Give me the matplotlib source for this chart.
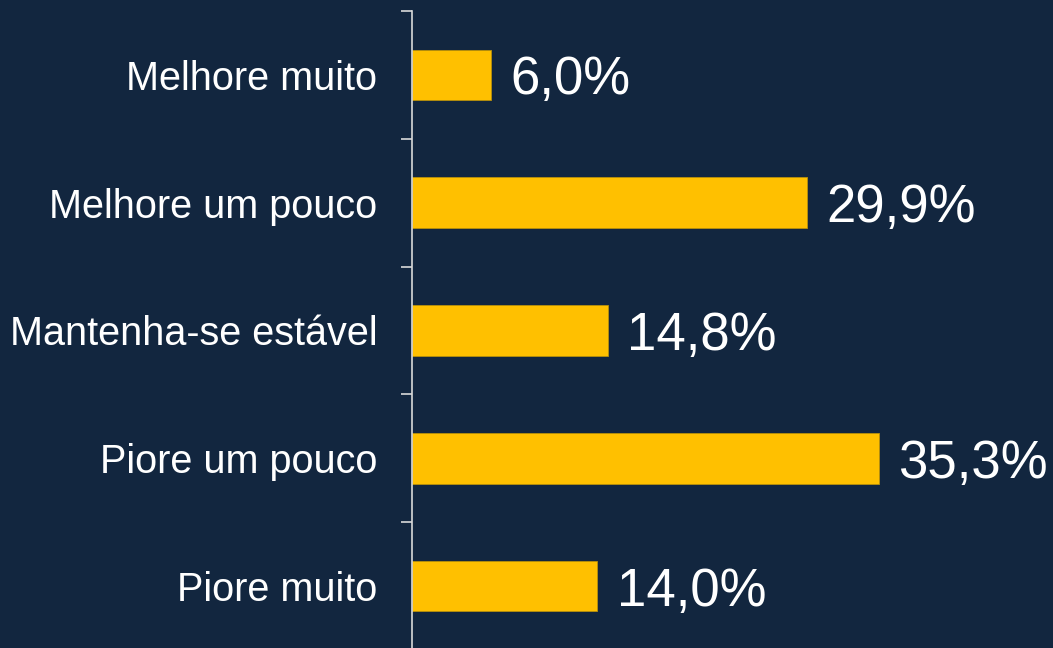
import matplotlib.pyplot as plt
import numpy as np

# data
categories = ["Melhore muito", "Melhore um pouco", "Mantenha-se estável",
              "Piore um pouco", "Piore muito"]
values = [6.0, 29.9, 14.8, 35.3, 14.0]
value_labels = ["6,0%", "29,9%", "14,8%", "35,3%", "14,0%"]

bg = "#12263f"
bar_color = "#ffc000"

plt.rcParams['font.family'] = ['Liberation Sans', 'DejaVu Sans']

fig = plt.figure(figsize=(10.53, 6.48), dpi=100, facecolor=bg)
ax = fig.add_axes([0.3913, -0.003, 0.6087, 0.986])
ax.set_facecolor(bg)

y = np.arange(len(categories))
ax.barh(y, values, height=0.395, color=bar_color, edgecolor="#b8900a", linewidth=0.6)

for yi, v, lab in zip(y, values, value_labels):
    ax.annotate(lab, (v, yi), xytext=(14, -4), textcoords="offset points",
                va="center", ha="left", color="white", fontsize=38)

ax.set_xlim(0, 48.5)
ax.set_ylim(len(categories) - 0.5, -0.5)

ax.set_yticks(y)
ax.set_yticklabels(categories, fontsize=28.5, color="white")
ax.tick_params(axis="y", which="major", length=0, pad=25)
ax.set_yticks(np.arange(len(categories) + 1) - 0.5, minor=True)
ax.tick_params(axis="y", which="minor", length=8, width=1.2, color="#d9d9d9")

ax.set_xticks([])
for s in ["top", "right", "bottom"]:
    ax.spines[s].set_visible(False)
ax.spines["left"].set_color("#d9d9d9")
ax.spines["left"].set_linewidth(1.2)

fig.savefig("out.png", dpi=100, facecolor=bg)
